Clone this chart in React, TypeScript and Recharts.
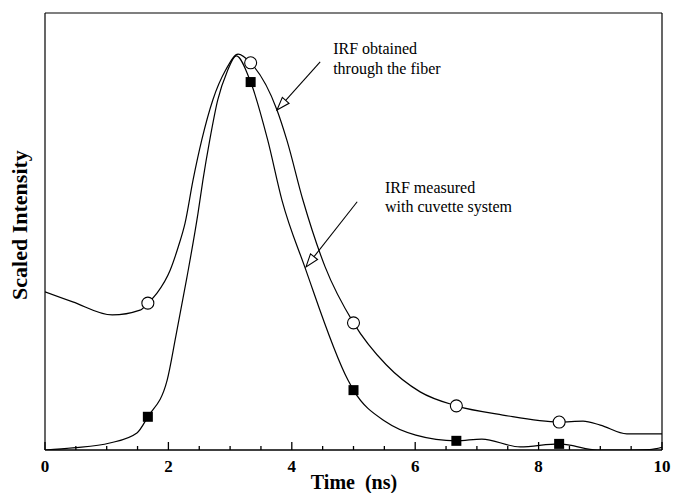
import {
  ComposedChart,
  Line,
  Scatter,
  XAxis,
  YAxis,
  ReferenceLine,
  ReferenceDot,
} from "recharts";

// time axis (ns) and scaled intensity
const fiberTime = [0, 0.45, 1.09, 1.54, 1.667, 1.815, 2.03, 2.16, 2.27, 2.4, 2.54, 2.72, 2.93, 3.13, 3.333, 3.76, 3.92, 4.18, 4.54, 5.0, 5.53, 6.08, 6.667, 7.42, 8.333, 8.72, 9.0, 9.43, 10];
const fiberIntensity = [36.2, 33.9, 30.9, 32.0, 33.6, 35.9, 41.2, 46.5, 51.9, 61.8, 70.9, 80.1, 87.0, 90.6, 88.6, 77.8, 70.9, 57.2, 41.9, 29.1, 19.5, 13.3, 10.1, 8.0, 6.4, 6.6, 5.7, 3.7, 3.7];

const cuvetteTime = [0, 0.45, 1.05, 1.49, 1.667, 1.98, 2.12, 2.3, 2.48, 2.56, 2.67, 2.8, 2.95, 3.1, 3.333, 3.61, 3.84, 4.21, 4.91, 5.0, 5.53, 6.01, 6.667, 7.08, 7.7, 8.333, 8.5, 8.95, 9.5, 9.8, 10];
const cuvetteIntensity = [0, 0.5, 1.6, 3.9, 7.6, 16.0, 26.0, 39.5, 54.2, 61.8, 70.9, 80.1, 86.5, 90.2, 84.2, 70.9, 57.2, 41.9, 16.0, 13.7, 6.4, 3.4, 2.1, 2.5, 0.7, 1.4, 1.1, 0, 0, 0.1, 0.6];

const markerTime = [1.667, 3.333, 5.0, 6.667, 8.333];
const fiberMarkers = [33.6, 88.6, 29.1, 10.1, 6.4];
const cuvetteMarkers = [7.6, 84.2, 13.7, 2.1, 1.4];

const xTicks = [0, 0.5, 1, 1.5, 2, 2.5, 3, 3.5, 4, 4.5, 5, 5.5, 6, 6.5, 7, 7.5, 8, 8.5, 9, 9.5, 10];
const xLabels = [0, 2, 4, 6, 8, 10];

const fiberData = fiberTime.map((t, i) => ({ t, v: fiberIntensity[i] }));
const cuvetteData = cuvetteTime.map((t, i) => ({ t, v: cuvetteIntensity[i] }));
const fiberDots = markerTime.map((t, i) => ({ t, v: fiberMarkers[i] }));
const cuvetteDots = markerTime.map((t, i) => ({ t, v: cuvetteMarkers[i] }));

const serif = "'Liberation Serif', 'Times New Roman', serif";

// bottom axis: inward tick mark plus bold label on the even values
function BottomTick(props: any) {
  const { x, y, payload } = props;
  const major = xLabels.includes(payload.value);
  return (
    <g>
      <path d={`M${x},${y}V${y - (major ? 8 : 4)}`} stroke="#000" strokeWidth={1.3} fill="none" />
      {major && (
        <text x={x} y={y + 22} textAnchor="middle" fontFamily={serif} fontWeight="bold" fontSize={17} fill="#000">
          {payload.value}
        </text>
      )}
    </g>
  );
}

function TopTick(props: any) {
  const { x, y, payload } = props;
  const major = xLabels.includes(payload.value);
  return <path d={`M${x},${y}V${y + (major ? 8 : 4)}`} stroke="#000" strokeWidth={1.3} fill="none" />;
}

function Arrow(props: any) {
  const { x1, y1, x2, y2 } = props;
  const dx = x2 - x1;
  const dy = y2 - y1;
  const len = Math.sqrt(dx * dx + dy * dy) || 1;
  const ux = dx / len;
  const uy = dy / len;
  const bx = x2 - ux * 13;
  const by = y2 - uy * 13;
  const px = -uy * 4.5;
  const py = ux * 4.5;
  return (
    <g>
      <line x1={x1} y1={y1} x2={bx} y2={by} stroke="#000" strokeWidth={1.1} />
      <polygon
        points={`${x2},${y2} ${bx + px},${by + py} ${bx - px},${by - py}`}
        fill="#fff"
        stroke="#000"
        strokeWidth={1.1}
      />
    </g>
  );
}

function note(text: string) {
  return (p: any) => (
    <text x={p.cx} y={p.cy} fontFamily={serif} fontSize={16} fill="#000">
      {text}
    </text>
  );
}

function OpenCircle(p: any) {
  return <circle cx={p.cx} cy={p.cy} r={6} fill="#fff" stroke="#000" strokeWidth={1.1} />;
}

function FilledSquare(p: any) {
  return <rect x={p.cx - 5} y={p.cy - 5} width={10} height={10} fill="#000" />;
}

export default function App() {
  return (
    <div style={{ position: "absolute", left: 0, top: 0, width: 676, height: 493, background: "#fff" }}>
      <ComposedChart width={676} height={493} margin={{ top: 0, right: 0, bottom: 0, left: 0 }}>
        <XAxis
          dataKey="t"
          type="number"
          domain={[0, 10]}
          ticks={xTicks}
          interval={0}
          height={43}
          tickSize={0}
          tickMargin={0}
          tickLine={false}
          tick={<BottomTick />}
          axisLine={{ stroke: "#000", strokeWidth: 1.6 }}
          allowDataOverflow
        />
        <XAxis
          xAxisId="top"
          orientation="top"
          dataKey="t"
          type="number"
          domain={[0, 10]}
          ticks={xTicks}
          interval={0}
          height={13}
          tickSize={0}
          tickMargin={0}
          tickLine={false}
          tick={<TopTick />}
          axisLine={{ stroke: "#000", strokeWidth: 1.2 }}
        />
        <YAxis
          type="number"
          domain={[0, 100]}
          width={45}
          tick={false}
          tickLine={false}
          axisLine={{ stroke: "#000", strokeWidth: 1.2 }}
          allowDataOverflow
        />
        <YAxis
          yAxisId="right"
          orientation="right"
          type="number"
          domain={[0, 100]}
          width={14}
          tick={false}
          tickLine={false}
          axisLine={{ stroke: "#000", strokeWidth: 1.2 }}
        />

        <Line
          data={fiberData}
          dataKey="v"
          type="monotone"
          stroke="#000"
          strokeWidth={1.2}
          dot={false}
          isAnimationActive={false}
        />
        <Line
          data={cuvetteData}
          dataKey="v"
          type="monotone"
          stroke="#000"
          strokeWidth={1.2}
          dot={false}
          isAnimationActive={false}
        />
        <Scatter data={fiberDots} dataKey="v" shape={OpenCircle} isAnimationActive={false} />
        <Scatter data={cuvetteDots} dataKey="v" shape={FilledSquare} isAnimationActive={false} />

        <ReferenceLine segment={[{ x: 4.46, y: 88.8 }, { x: 3.76, y: 77.8 }]} shape={Arrow} />
        <ReferenceLine segment={[{ x: 5.06, y: 56.8 }, { x: 4.23, y: 41.9 }]} shape={Arrow} />

        <ReferenceDot x={4.67} y={90.6} r={0} shape={note("IRF obtained")} />
        <ReferenceDot x={4.67} y={86.0} r={0} shape={note("through the fiber")} />
        <ReferenceDot x={5.51} y={58.8} r={0} shape={note("IRF measured")} />
        <ReferenceDot x={5.51} y={54.5} r={0} shape={note("with cuvette system")} />
      </ComposedChart>
      <svg width={676} height={493} style={{ position: "absolute", left: 0, top: 0, pointerEvents: "none" }}>
        <text
          x={354}
          y={489}
          textAnchor="middle"
          fontFamily={serif}
          fontWeight="bold"
          fontSize={20}
          fill="#000"
          style={{ whiteSpace: "pre" }}
        >
          {"Time  (ns)"}
        </text>
        <text
          x={27}
          y={225}
          textAnchor="middle"
          fontFamily={serif}
          fontWeight="bold"
          fontSize={22}
          fill="#000"
          transform="rotate(-90, 27, 225)"
        >
          Scaled Intensity
        </text>
      </svg>
    </div>
  );
}
